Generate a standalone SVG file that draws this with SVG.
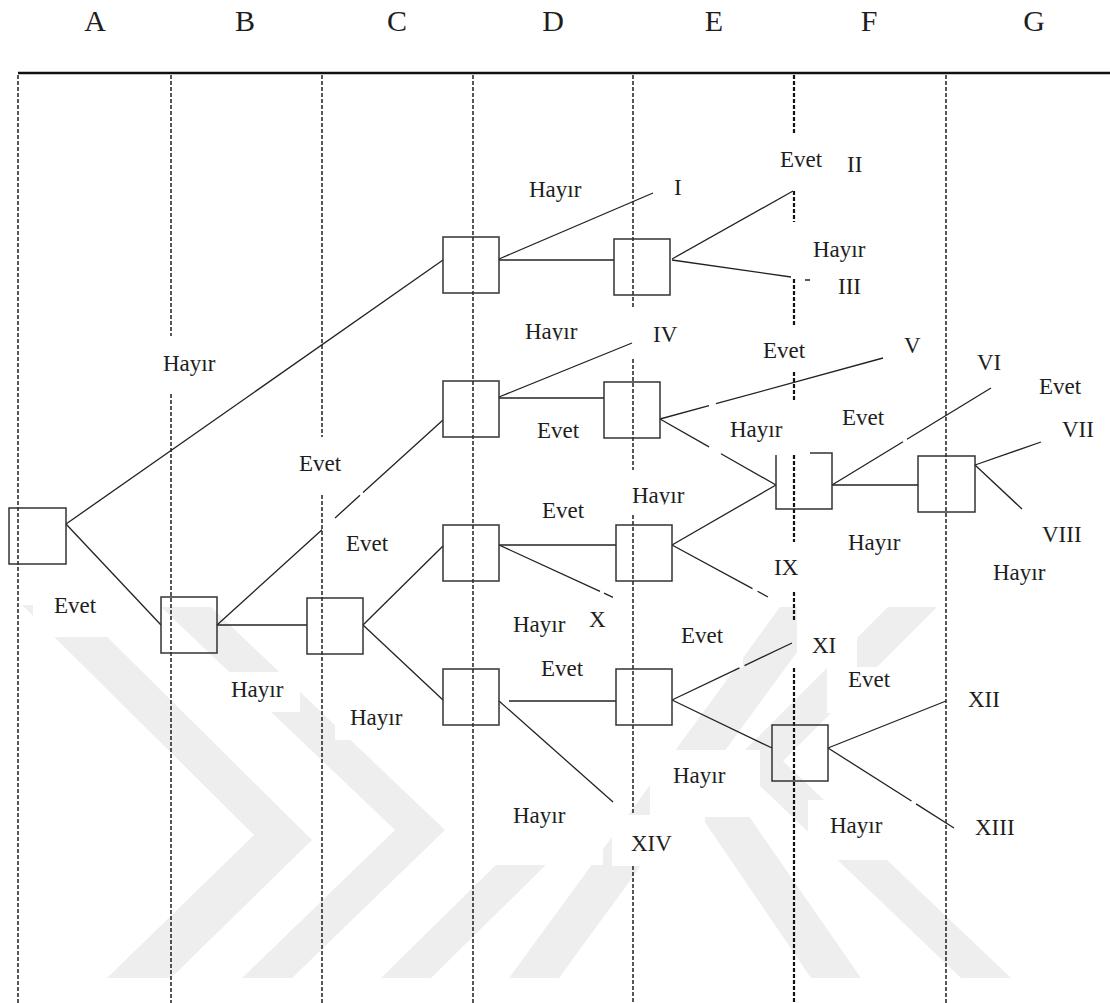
<svg xmlns="http://www.w3.org/2000/svg" width="1110" height="1003" viewBox="0 0 1110 1003">
<style>
.lbl{font-family:"Liberation Serif","Times New Roman",serif;font-size:23px;fill:#1e1e1e}
.col{font-family:"Liberation Serif","Times New Roman",serif;font-size:30px;fill:#1e1e1e;text-anchor:middle}
.grid{stroke:#111;stroke-width:1.4;stroke-dasharray:4 2;fill:none}
.gridF{stroke:#111;stroke-width:2.2;stroke-dasharray:4 2;fill:none}
.box{fill:none;stroke:#333;stroke-width:1.5}
.edge{stroke:#222;stroke-width:1.3;fill:none}
.wm{fill:#eeeeee}
.bg{fill:#fff}
</style>
<defs>
<clipPath id="clipHav1" clipPathUnits="userSpaceOnUse"><rect x="515" y="300" width="80" height="40.5"/></clipPath>
<clipPath id="clipHav2" clipPathUnits="userSpaceOnUse"><rect x="620" y="470" width="80" height="34.5"/></clipPath>
</defs>
<rect x="0" y="0" width="1110" height="1003" fill="#fff"/>
<g id="watermark">
<polygon class="wm" points="22,605 75,605 312,840 171,978 107,978 254,835"/>
<polygon class="wm" points="161,607 211,607 445,830 292,978 242,978 395,830"/>
<polygon class="wm" points="381,978 431,978 552,859 502,859"/>
<polygon class="wm" points="509,978 559,978 830,607 780,607"/>
<polygon class="wm" points="700,815 748,815 861,978 811,978"/>
<polygon class="wm" points="888,607 937,607 783,761 1011,978 961,978 734,761"/>
</g>
<g id="label-backgrounds">
<rect class="bg" x="33" y="585" width="85" height="52"/>
<rect class="bg" x="492" y="597" width="120" height="56"/>
<rect class="bg" x="605" y="608" width="138" height="60"/>
<rect class="bg" x="520" y="655" width="90" height="30"/>
<rect class="bg" x="797" y="600" width="60" height="67"/>
<rect class="bg" x="827" y="667" width="76" height="46"/>
<rect class="bg" x="215" y="672" width="85" height="40"/>
<rect class="bg" x="335" y="700" width="85" height="40"/>
<rect class="bg" x="650" y="750" width="110" height="67"/>
<rect class="bg" x="493" y="790" width="110" height="75"/>
<rect class="bg" x="612" y="815" width="93" height="51"/>
<rect class="bg" x="808" y="800" width="80" height="60"/>
<rect class="bg" x="960" y="810" width="70" height="40"/>
</g>
<g id="columns">
<text class="col" x="95" y="31">A</text>
<text class="col" x="245" y="31">B</text>
<text class="col" x="397" y="31">C</text>
<text class="col" x="553" y="31">D</text>
<text class="col" x="714" y="31">E</text>
<text class="col" x="869" y="31">F</text>
<text class="col" x="1034" y="31">G</text>
<line x1="18" y1="73" x2="1110" y2="73" stroke="#111" stroke-width="2.5"/>
<path class="grid" d="M18,75V1003"/>
<path class="grid" d="M171,75V336M171,394V1003"/>
<path class="grid" d="M322,75V437M322,495V1003"/>
<path class="grid" d="M473,75V1003"/>
<path class="grid" d="M633,75V307M633,359V470M633,515V815M633,866V1003"/>
<path class="gridF" d="M794,75V133M794,191V222M794,279V325M794,372V402M794,455V542M794,592V620M794,668V1003"/>
<path class="grid" d="M946,75V1003"/>
</g>
<g id="connectors">
<path class="edge" d="M66,524L443,260"/>
<path class="edge" d="M66,524L161,625"/>
<path class="edge" d="M217,625H307"/>
<path class="edge" d="M217,625L322,529.8M335,518L360,495.3M363,492.6L443,420"/>
<path class="edge" d="M363,625L443,546"/>
<path class="edge" d="M363,625L443,700"/>
<path class="edge" d="M499,259L653,193"/>
<path class="edge" d="M499,260H614"/>
<path class="edge" d="M672,259L793,191"/>
<path class="edge" d="M672,260L791,277M805,280H810"/>
<path class="edge" d="M499,397L632,343"/>
<path class="edge" d="M499,398H604"/>
<path class="edge" d="M660,419L709,405.6M716,403.7L883,358"/>
<path class="edge" d="M660,419L709,446.9M721,453.7L776,485"/>
<path class="edge" d="M832,485L903,441.7M907,439.2L991,388"/>
<path class="edge" d="M832,485H918"/>
<path class="edge" d="M975,465L1041,442"/>
<path class="edge" d="M975,465L1022,509"/>
<path class="edge" d="M499,545H616"/>
<path class="edge" d="M499,545L600,591.4M604,593.2L613,597.3"/>
<path class="edge" d="M672,545L776,485"/>
<path class="edge" d="M672,545L752.5,588.6M757.5,591.3L768,597"/>
<path class="edge" d="M509,701H616"/>
<path class="edge" d="M499,701L613,802"/>
<path class="edge" d="M672,700L739.5,667.9M744.5,665.6L792,643"/>
<path class="edge" d="M672,700L772,748"/>
<path class="edge" d="M828,748L946,701"/>
<path class="edge" d="M828,748L911.5,801M916,803.9L954,828"/>
</g>
<g id="node-A"><rect class="box" x="9" y="508" width="57" height="56"/></g>
<g id="node-B"><rect class="box" x="161" y="597" width="56" height="56"/></g>
<g id="node-C"><rect class="box" x="307" y="598" width="56" height="56"/></g>
<g id="node-D1"><rect class="box" x="443" y="237" width="56" height="56"/></g>
<g id="node-E1"><rect class="box" x="614" y="239" width="56" height="56"/></g>
<g id="node-D2"><rect class="box" x="443" y="381" width="56" height="56"/></g>
<g id="node-E2"><rect class="box" x="604" y="382" width="56" height="56"/></g>
<g id="node-F1"><path class="box" d="M810,453H832V509H776V455"/></g>
<g id="node-G"><rect class="box" x="918" y="456" width="57" height="56"/></g>
<g id="node-D3"><rect class="box" x="443" y="525" width="56" height="56"/></g>
<g id="node-E3"><rect class="box" x="616" y="525" width="56" height="56"/></g>
<g id="node-D4"><rect class="box" x="443" y="669" width="56" height="56"/></g>
<g id="node-E4"><rect class="box" x="616" y="669" width="56" height="56"/></g>
<g id="node-F2"><rect class="box" x="772" y="725" width="56" height="56"/></g>
<g id="labels">
<text class="lbl" x="529" y="197">Hayır</text>
<text class="lbl" x="674" y="195">I</text>
<text class="lbl" x="780" y="167">Evet</text>
<text class="lbl" x="847" y="172">II</text>
<text class="lbl" x="813" y="257">Hayır</text>
<text class="lbl" x="838" y="294">III</text>
<text class="lbl" x="525" y="339" clip-path="url(#clipHav1)">Hayır</text>
<text class="lbl" x="653" y="342">IV</text>
<text class="lbl" x="763" y="358">Evet</text>
<text class="lbl" x="904" y="353">V</text>
<text class="lbl" x="977" y="370">VI</text>
<text class="lbl" x="1039" y="394">Evet</text>
<text class="lbl" x="537" y="438">Evet</text>
<text class="lbl" x="730" y="437">Hayır</text>
<text class="lbl" x="842" y="425">Evet</text>
<text class="lbl" x="1062" y="437">VII</text>
<text class="lbl" x="632" y="503" clip-path="url(#clipHav2)">Hayır</text>
<text class="lbl" x="542" y="518">Evet</text>
<text class="lbl" x="1042" y="542">VIII</text>
<text class="lbl" x="848" y="550">Hayır</text>
<text class="lbl" x="774" y="575">IX</text>
<text class="lbl" x="993" y="580">Hayır</text>
<text class="lbl" x="163" y="371">Hayır</text>
<text class="lbl" x="299" y="471">Evet</text>
<text class="lbl" x="346" y="551">Evet</text>
<text class="lbl" x="54" y="613">Evet</text>
<text class="lbl" x="513" y="632">Hayır</text>
<text class="lbl" x="589" y="627">X</text>
<text class="lbl" x="681" y="643">Evet</text>
<text class="lbl" x="541" y="676">Evet</text>
<text class="lbl" x="812" y="653">XI</text>
<text class="lbl" x="848" y="687">Evet</text>
<text class="lbl" x="968" y="707">XII</text>
<text class="lbl" x="231" y="697">Hayır</text>
<text class="lbl" x="350" y="725">Hayır</text>
<text class="lbl" x="673" y="783">Hayır</text>
<text class="lbl" x="513" y="823">Hayır</text>
<text class="lbl" x="830" y="833">Hayır</text>
<text class="lbl" x="975" y="835">XIII</text>
<text class="lbl" x="631" y="851">XIV</text>
</g>
</svg>
